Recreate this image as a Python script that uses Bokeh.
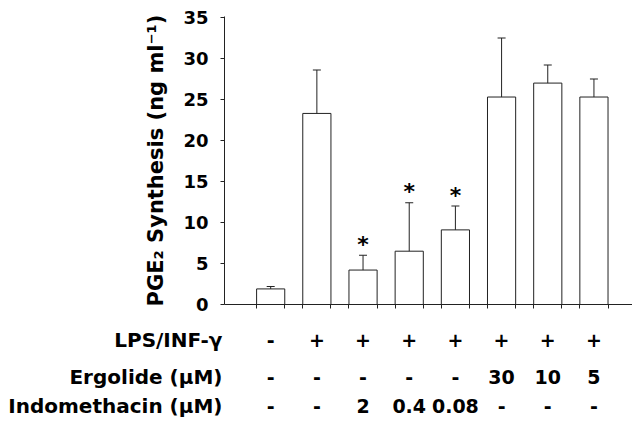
from bokeh.plotting import figure
from bokeh.layouts import column
from bokeh.models import (Range1d, FixedTicker, ColumnDataSource,
                          CustomJSTickFormatter)
from bokeh.core.properties import value
from bokeh.embed import file_html
from bokeh.resources import INLINE

# ---- data ----
groups = [1, 2, 3, 4, 5, 6, 7, 8]
pge2 = [1.9, 23.3, 4.2, 6.5, 9.1, 25.3, 27.0, 25.3]
sem = [0.3, 5.3, 1.8, 5.9, 2.9, 7.2, 2.2, 2.2]
signif = ["", "", "*", "*", "*", "", "", ""]
lps = ["-", "+", "+", "+", "+", "+", "+", "+"]
ergolide = ["-", "-", "-", "-", "-", "30", "10", "5"]
indometh = ["-", "-", "2", "0.4", "0.08", "-", "-", "-"]
row_labels = ["LPS/INF-\u03b3", "Ergolide (\u03bcM)", "Indomethacin (\u03bcM)"]
yticks = [0, 5, 10, 15, 20, 25, 30, 35]

FONT = "DejaVu Sans"
BAR_W = 0.61
X_END = 8.835

top = [v + e for v, e in zip(pge2, sem)]
src = ColumnDataSource(dict(x=groups, v=pge2, top=top, sig=signif))

p = figure(frame_width=408, frame_height=288, min_border_left=224,
           min_border_right=0, min_border_top=16, min_border_bottom=14,
           x_range=Range1d(0, X_END), y_range=Range1d(0, 35.12),
           output_backend="svg", toolbar_location=None)
p.outline_line_color = None
p.grid.grid_line_color = None

p.vbar(x="x", top="v", bottom=0, width=BAR_W, source=src,
       fill_color="white", line_color="#222222", line_width=1)
p.segment(x0="x", y0="v", x1="x", y1="top", source=src,
          line_color="#222222", line_width=1)
p.rect(x="x", y="top", width=8, height=1, width_units="screen",
       height_units="screen", source=src, fill_color="#222222",
       line_color=None)
p.text(x="x", y="top", text="sig", source=src, text_align="center",
       text_baseline="middle", y_offset=-11, text_font=value(FONT),
       text_font_style="bold", text_font_size="22px", text_color="black")

# y axis
p.yaxis.ticker = FixedTicker(ticks=yticks)
p.yaxis.minor_tick_line_color = None
p.yaxis.major_tick_out = 4
p.yaxis.major_tick_in = 0
p.yaxis.major_label_standoff = 12
p.yaxis.major_label_text_font = FONT
p.yaxis.major_label_text_font_style = "bold"
p.yaxis.major_label_text_font_size = "18px"
p.yaxis.major_label_text_color = "black"
p.yaxis.axis_label = "PGE\u2082 Synthesis (ng ml\u207b\u00b9)"
p.yaxis.axis_label_text_font = FONT
p.yaxis.axis_label_text_font_style = "bold"
p.yaxis.axis_label_text_font_size = "21px"
p.yaxis.axis_label_text_color = "black"
p.yaxis.axis_label_standoff = 12
p.yaxis.axis_line_color = "#222222"
p.yaxis.major_tick_line_color = "#222222"

# x axis: ticks at bar edges, no tick labels
edges = []
for g in groups:
    edges += [g - BAR_W / 2, g + BAR_W / 2]
p.xaxis.ticker = FixedTicker(ticks=edges)
p.xaxis.formatter = CustomJSTickFormatter(code="return ''")
p.xaxis.minor_tick_line_color = None
p.xaxis.major_tick_out = 4
p.xaxis.major_tick_in = 0
p.xaxis.major_label_standoff = 0
p.xaxis.major_label_text_font_size = "6px"
p.xaxis.axis_line_color = "#222222"
p.xaxis.major_tick_line_color = "#222222"

# ---- treatment table below the chart ----
T_H = 100
ROW_Y = [21, 58, 87]   # pixel rows inside the table panel
t = figure(frame_width=408, frame_height=T_H, min_border_left=224,
           min_border_right=0, min_border_top=0, min_border_bottom=0,
           x_range=p.x_range, y_range=Range1d(T_H, 0),
           output_backend="svg", toolbar_location=None)
t.outline_line_color = None
t.grid.grid_line_color = None
t.xaxis.visible = False
t.yaxis.ticker = FixedTicker(ticks=ROW_Y)
t.yaxis.major_label_overrides = {ry: lab for ry, lab in zip(ROW_Y, row_labels)}
t.yaxis.axis_line_color = None
t.yaxis.major_tick_line_color = None
t.yaxis.minor_tick_line_color = None
t.yaxis.major_tick_out = 0
t.yaxis.major_tick_in = 0
t.yaxis.major_label_standoff = 2
t.yaxis.major_label_text_font = FONT
t.yaxis.major_label_text_font_style = "bold"
t.yaxis.major_label_text_font_size = "20px"
t.yaxis.major_label_text_color = "black"

for ry, vals in zip(ROW_Y, [lps, ergolide, indometh]):
    t.text(x=groups, y=[ry] * len(groups), text=vals, text_align="center",
           text_baseline="middle", text_font=value(FONT),
           text_font_style="bold", text_font_size="19px", text_color="black")

layout = column(p, t, spacing=0)
open("out.html", "w").write(file_html(layout, INLINE))
